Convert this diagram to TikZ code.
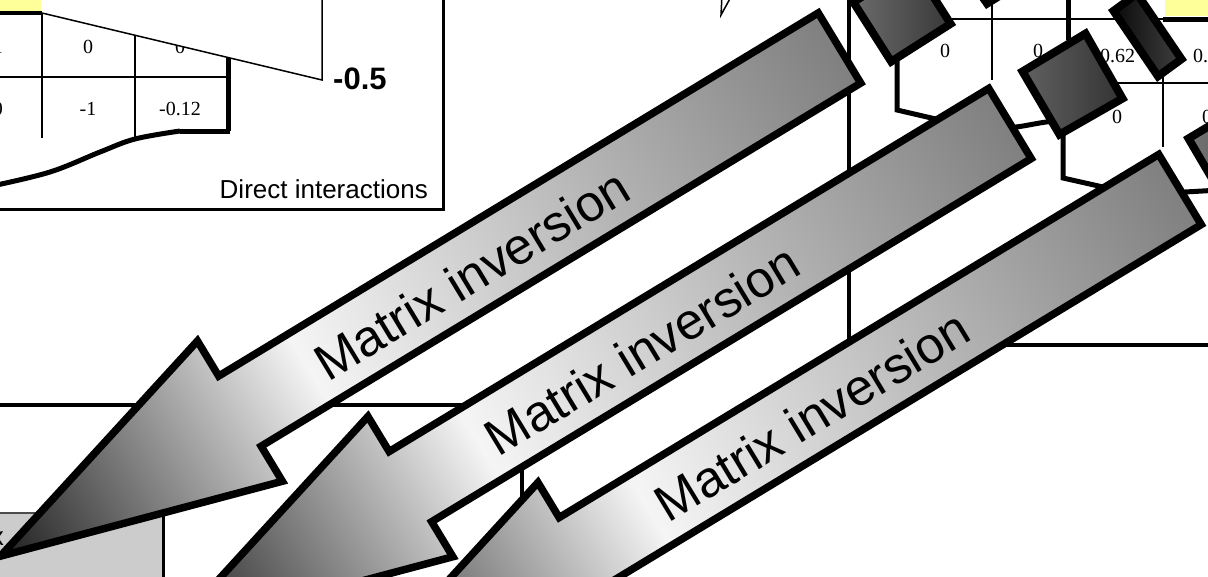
\documentclass[tikz,border=0pt]{standalone}
\usepackage{fontspec}
\setmainfont{Liberation Serif}
\newfontfamily\sansf{Liberation Sans}
\definecolor{ylw}{HTML}{FFFF99}
\definecolor{shA}{gray}{0.50}
\definecolor{shB}{gray}{0.96}
\definecolor{shC}{gray}{0.12}
\pgfdeclarehorizontalshading{arrowshade}{100bp}{color(0bp)=(shA); color(25bp)=(shA); color(56.6bp)=(shB); color(75bp)=(shC); color(100bp)=(shC)}
\tikzset{
  thinln/.style={line width=2pt},
  frameln/.style={line width=4pt},
  thickln/.style={line width=5pt},
  numtxt/.style={font=\fontsize{20}{20}\selectfont, inner sep=0pt, anchor=base},
  arrowbody/.style={shade, shading=arrowshade, draw=black, line width=7.5pt, line join=miter},
  arrowtxt/.style={font=\sansf\fontsize{51}{51}\selectfont, rotate=180, inner sep=0pt},
  darksq/.style={draw=black, line width=8pt, line join=miter},
}
\newcommand\matarrow[2]{%
  \begin{scope}[transform canvas={shift={(#1)}, rotate=211.2}]
    \path[arrowbody] (0,-41)--(701,-41)--(701,-82)--(981,0)--(701,82)--(701,41)--(0,41)--cycle;
    \node[arrowtxt] (#2) at (432,-3) {Matrix inversion};
  \end{scope}}
\begin{document}
\begin{tikzpicture}[x=1pt,y=-1pt]
\useasboundingbox (0,0) rectangle (1208,576);
\begin{scope}
\clip (0,0) rectangle (1208,576);
% ---------- left panel ----------
\draw[line width=3pt] (-10,209) -- (443,209) -- (443,-10);
\fill[ylw] (-10,-10) rectangle (41,12);
\draw[line width=4pt] (-10,13) -- (43,13);
\draw[thinln] (42,13) -- (42,138);
\draw[thinln] (135,13) -- (135,139);
\draw[thinln] (-10,77) -- (228,77);
\node[numtxt] (a1) at (-2,53) {1};
\node[numtxt] (a2) at (88,53) {0};
\node[numtxt] (a3) at (180,53) {0};
\node[numtxt] (b1) at (-2,115) {0};
\node[numtxt] (b2) at (88,115) {-1};
\node[numtxt] (b3) at (180,115) {-0.12};
\draw[thickln] (228,10) -- (228,131);
\draw[thickln] (230,131) -- (180,131);
\draw[thickln] plot[smooth, tension=0.6] coordinates {(180,131) (135,139) (100,152) (50,172) (-8,186)};
\fill[white] (42,13) -- (322,80) -- (322,-10) -- (42,-10) -- cycle;
\draw[line width=1.5pt] (42,13) -- (322,80) -- (322,-10);
\node[font=\sansf\bfseries\fontsize{31}{31}\selectfont, anchor=base west, inner sep=0pt] (mval) at (333,89) {-0.5};
\node[font=\sansf\fontsize{26}{26}\selectfont, anchor=base east, inner sep=0pt] (dlab) at (428,198) {Direct interactions};
% ---------- small callout top middle ----------
\draw[line width=1.5pt] (722,-5) -- (721,15) -- (732,-5);
% ---------- right panel ----------
\draw[frameln] (849,-10) -- (849,345) -- (1220,345);
\fill[ylw] (1165,-10) rectangle (1220,16);
\draw[line width=5pt] (1163,19) -- (1220,19);
\draw[thinln] (920,19) -- (1165,19);
\draw[thinln] (992,-10) -- (992,80);
\draw[thickln] (1068,-10) -- (1068,40);
\draw[thinln] (1100,83) -- (1220,83);
\draw[thinln] (1163,75) -- (1163,147);
\node[numtxt] (r1) at (945,57) {0};
\node[numtxt] (r2) at (1038,57) {0};
\node[numtxt] (r3) at (1117.5,62) {0.62};
\node[numtxt, anchor=base west] (r4) at (1193,62) {0.};
\node[numtxt] (r5) at (1117,123) {0};
\node[numtxt, anchor=base west] (r6) at (1202,123) {0};
\draw[thickln] (897,55) -- (897,110) -- (940,120) -- (1000,128) to[out=0,in=185] (1055,121);
\draw[thickln] (1063,135) -- (1063,178) -- (1103,187) -- (1150,194) -- (1220,190);
% dark squares
\path[darksq, left color=black!58, right color=black!78] (853.4,2.2) -- (891.2,61.6) -- (950.6,23.8) -- (912.8,-35.6) -- cycle;
\fill[black] (979,-1) -- (986,9) -- (1002,-1) -- cycle;
\path[darksq, left color=black!62, right color=black!80] (1022.5,71.5) -- (1085.5,33.6) -- (1122.5,98.5) -- (1059.5,134.5) -- cycle;
\path[darksq, left color=black!96, right color=black!75] (1113.5,10.9) -- (1137,-6.3) -- (1181.5,59.1) -- (1158,76.3) -- cycle;
\path[darksq, left color=black!55, right color=black!68] (1188.5,138.5) -- (1251.5,100.6) -- (1288.5,165.5) -- (1225.5,201.5) -- cycle;
% ---------- bottom panel ----------
\fill[black!20] (-10,513) rectangle (163,590);
\draw[line width=1.5pt, black!70] (-10,513) -- (60,513);
\draw[line width=3pt] (163,513) -- (163,590);
\node[font=\sansf\fontsize{26}{26}\selectfont, anchor=base east, inner sep=0pt] (xpart) at (4,545) {x};
\draw[frameln] (-10,405) -- (522,405) -- (522,590);
% ---------- arrows ----------
\matarrow{839.5,48}{lab1}
\matarrow{1010,123.5}{lab2}
\matarrow{1180,189.5}{lab3}
\end{scope}
\end{tikzpicture}
\end{document}
